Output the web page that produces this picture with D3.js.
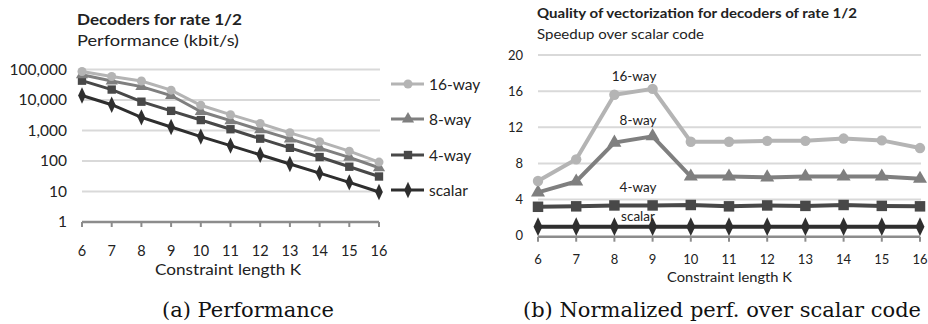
<!DOCTYPE html>
<html>
<head>
<meta charset="utf-8">
<script src="https://cdn.jsdelivr.net/npm/d3@7"></script>
<style>
  body { margin: 0; background: #fff; }
  text { font-family: Lato, "Open Sans", sans-serif; fill: #222; }
  .caption { font-family: "DejaVu Serif", "Liberation Serif", serif; fill: #111; }
</style>
</head>
<body>
<svg width="928" height="324"></svg>
<script>
// данные
const lengthK = [6, 7, 8, 9, 10, 11, 12, 13, 14, 15, 16];
const seriesNames = ["16-way", "8-way", "4-way", "scalar"];

// производительность (kbit/s)
const perf16 = [86000, 59000, 42000, 21000, 6700, 3300, 1700, 840, 430, 210, 92];
const perf8 = [67000, 42000, 27500, 14000, 4200, 2100, 1050, 530, 265, 132, 60];
const perf4 = [43000, 22000, 8800, 4400, 2200, 1100, 540, 270, 135, 65, 31];
const perfScalar = [14000, 7000, 2700, 1300, 630, 320, 160, 80, 40, 20, 9.6];

// ускорение относительно скалярного кода
const speed16 = [6.05, 8.45, 15.6, 16.25, 10.4, 10.4, 10.5, 10.5, 10.75, 10.55, 9.7];
const speed8 = [4.8, 6.0, 10.3, 11.0, 6.55, 6.55, 6.45, 6.55, 6.55, 6.55, 6.3];
const speed4 = [3.2, 3.25, 3.35, 3.35, 3.4, 3.25, 3.35, 3.3, 3.4, 3.3, 3.25];
const speedScalar = [1, 1, 1, 1, 1, 1, 1, 1, 1, 1, 1];

const logTicks = [1, 10, 100, 1000, 10000, 100000];
const linTicks = [0, 4, 8, 12, 16, 20];

const colors = ["#b4b4b4", "#7f7f7f", "#484848", "#2e2e2e"];
const symbols = [d3.symbolCircle, d3.symbolTriangle, d3.symbolSquare, d3.symbolDiamond];

const svg = d3.select("svg");

// текст с заданной шириной (картинка растянута по горизонтали)
function fitText(g, str, x, y, width, size, bold, cls) {
    const t = g.append("text")
        .attr("x", x).attr("y", y)
        .attr("textLength", width)
        .attr("lengthAdjust", "spacingAndGlyphs")
        .style("font-size", size + "px")
        .text(str);
    if (bold) t.style("font-weight", "bold");
    if (cls) t.attr("class", cls);
    return t;
}

function drawMarkers(g, x, y, vals, i, size) {
    g.selectAll(null)
        .data(vals)
        .enter()
        .append("path")
        .attr("d", d3.symbol().type(symbols[i]).size(size))
        .attr("transform", (d, j) => `translate(${x(lengthK[j])},${y(d)})` + (i === 3 ? " scale(0.9,1.1)" : ""))
        .attr("fill", colors[i]);
}

function drawXAxis(g, x, yPos) {
    g.append("line")
        .attr("x1", x(6)).attr("x2", x(16))
        .attr("y1", yPos).attr("y2", yPos)
        .attr("stroke", "#8c8c8c").attr("stroke-width", 2.5);
    g.selectAll(null)
        .data(lengthK)
        .enter()
        .append("line")
        .attr("x1", d => x(d)).attr("x2", d => x(d))
        .attr("y1", yPos).attr("y2", yPos + 5)
        .attr("stroke", "#8c8c8c").attr("stroke-width", 2);
}

// ---- левый график (a) ----
{
    const x = d3.scaleLinear().domain([6, 16]).range([82, 379]);
    const y = d3.scaleLog().domain([1, 100000]).range([222, 69.5]);
    const g = svg.append("g");

    g.selectAll(".grid")
        .data(logTicks.slice(1))
        .enter()
        .append("line")
        .attr("x1", 82).attr("x2", 380)
        .attr("y1", d => y(d)).attr("y2", d => y(d))
        .attr("stroke", "#d9d9d9").attr("stroke-width", 2);

    drawXAxis(g, x, y(1));

    g.selectAll(".ylab")
        .data(logTicks)
        .enter()
        .append("text")
        .attr("x", 67)
        .attr("y", d => y(d) + 5)
        .attr("text-anchor", "end")
        .style("font-size", "15.5px")
        .text(d3.format(","));

    g.selectAll(".xlab")
        .data(lengthK)
        .enter()
        .append("text")
        .attr("x", d => x(d))
        .attr("y", 256)
        .attr("text-anchor", "middle")
        .style("font-size", "14.5px")
        .text(d => d);

    fitText(g, "Constraint length K", 155, 275, 146, 15);
    fitText(g, "Decoders for rate  1/2", 77, 25, 165, 16, true);
    fitText(g, "Performance (kbit/s)", 77, 46, 162, 16);

    const data = [perf16, perf8, perf4, perfScalar];
    const line = d3.line().x((d, j) => x(lengthK[j])).y(d => y(d));
    [3, 2, 1, 0].forEach(i => {
        g.append("path")
            .datum(data[i])
            .attr("fill", "none")
            .attr("stroke", colors[i])
            .attr("stroke-width", 3)
            .attr("d", line);
        drawMarkers(g, x, y, data[i], i, i === 2 ? 70 : 64);
    });

    // легенда
    const legY = [84, 119, 155, 190];
    seriesNames.forEach((name, i) => {
        g.append("line")
            .attr("x1", 391).attr("x2", 424)
            .attr("y1", legY[i]).attr("y2", legY[i])
            .attr("stroke", colors[i]).attr("stroke-width", 3);
        g.append("path")
            .attr("d", d3.symbol().type(symbols[i]).size(i === 2 ? 70 : 64))
            .attr("transform", `translate(408,${legY[i]})` + (i === 3 ? " scale(0.9,1.1)" : ""))
            .attr("fill", colors[i]);
        g.append("text")
            .attr("x", 429).attr("y", legY[i] + 5.5)
            .style("font-size", "15.5px")
            .text(name);
    });

    fitText(g, "(a) Performance", 162, 317, 172, 19.5, false, "caption");
}

// ---- правый график (b) ----
{
    const x = d3.scaleLinear().domain([6, 16]).range([538, 920]);
    const y = d3.scaleLinear().domain([0, 20]).range([235.7, 55]);
    const g = svg.append("g");

    g.selectAll(".grid")
        .data(linTicks.slice(1))
        .enter()
        .append("line")
        .attr("x1", 538).attr("x2", 921)
        .attr("y1", d => y(d)).attr("y2", d => y(d))
        .attr("stroke", "#d9d9d9").attr("stroke-width", 2);

    drawXAxis(g, x, y(0) + 1);

    g.selectAll(".ylab")
        .data(linTicks)
        .enter()
        .append("text")
        .attr("x", 523)
        .attr("y", d => y(d) + 4.5)
        .attr("text-anchor", "end")
        .style("font-size", "13px")
        .text(d => d);

    g.selectAll(".xlab")
        .data(lengthK)
        .enter()
        .append("text")
        .attr("x", d => x(d))
        .attr("y", 264)
        .attr("text-anchor", "middle")
        .style("font-size", "13px")
        .text(d => d);

    fitText(g, "Constraint length K", 667, 282, 125, 13.5);
    fitText(g, "Quality of vectorization for decoders of rate  1/2", 537, 18, 320, 14, true);
    fitText(g, "Speedup over scalar code", 537, 39, 167, 14);

    const data = [speed16, speed8, speed4, speedScalar];
    const line = d3.line().x((d, j) => x(lengthK[j])).y(d => y(d));
    [3, 2, 1, 0].forEach(i => {
        g.append("path")
            .datum(data[i])
            .attr("fill", "none")
            .attr("stroke", colors[i])
            .attr("stroke-width", 4)
            .attr("d", line);
        drawMarkers(g, x, y, data[i], i, i === 2 ? 110 : 85);
    });

    // подписи серий
    const labX = [634, 638, 638, 638];
    const labY = [81, 125, 192, 221];
    seriesNames.forEach((name, i) => {
        g.append("text")
            .attr("x", labX[i]).attr("y", labY[i])
            .attr("text-anchor", "middle")
            .style("font-size", "13.5px")
            .text(name);
    });

    fitText(g, "(b) Normalized perf. over scalar code", 523, 317, 398, 19.5, false, "caption");
}
</script>
</body>
</html>
